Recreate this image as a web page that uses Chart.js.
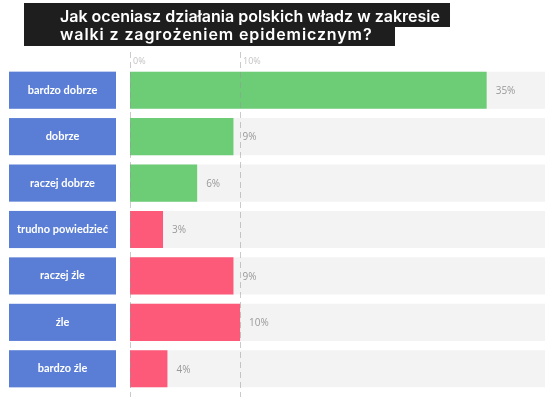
<!DOCTYPE html>
<html>
<head>
    <meta charset="UTF-8">
    <title>Ocena działań władz</title>
    <script src="https://cdn.jsdelivr.net/npm/chart.js"></script>
    <style>
        html, body { margin: 0; padding: 0; background: #fff; }
        #chart { display: block; }
    </style>
</head>
<body>
<canvas id="chart" width="555" height="397"></canvas>

<script>
    // dane
    var titleLines = ['Jak oceniasz działania polskich władz w zakresie', 'walki z zagrożeniem epidemicznym?'];
    var categories = ['bardzo dobrze', 'dobrze', 'raczej dobrze', 'trudno powiedzieć', 'raczej źle', 'źle', 'bardzo źle'];
    var percentLabels = [35, 9, 6, 3, 9, 10, 4];          // podpisy przy słupkach
    var barLengths = [32.4, 9.4, 6.1, 3, 9.4, 10, 3.4];  // długości słupków tak, jak są narysowane
    var tickValues = [0, 10];
    var axisMax = 37.7;

    var GREEN = '#6ccd76';
    var RED = '#fd5a79';
    var BLUE = '#5a7ed6';
    var TRACK = '#f3f3f3';

    // tytuł na czarnym tle
    var titlePlugin = {
        id: 'titleBox',
        beforeDraw: function (chart) {
            var ctx = chart.ctx;
            ctx.save();
            ctx.fillStyle = '#1e1e1e';
            ctx.fillRect(24, 3, 426, 24);
            ctx.fillRect(24, 27, 371, 19);
            ctx.font = '600 16px Inter';
            ctx.fillStyle = '#fff';
            ctx.textBaseline = 'alphabetic';
            ctx.fillText(titleLines[0], 60, 22);
            ctx.letterSpacing = '0.9px';
            ctx.fillText(titleLines[1], 60, 40);
            ctx.letterSpacing = '0px';
            ctx.restore();
        }
    };

    // niebieskie etykiety kategorii, linie siatki i wartości
    var extrasPlugin = {
        id: 'extras',
        afterDatasetsDraw: function (chart) {
            var ctx = chart.ctx;
            var xs = chart.scales.x;
            var meta = chart.getDatasetMeta(0);
            ctx.save();

            // linie przerywane
            ctx.strokeStyle = 'rgba(150,150,150,0.5)';
            ctx.lineWidth = 1;
            ctx.setLineDash([6, 4]);
            tickValues.forEach(function (v) {
                var x = Math.round(xs.getPixelForValue(v)) + 0.5;
                ctx.beginPath();
                ctx.moveTo(x, 52);
                ctx.lineTo(x, chart.height);
                ctx.stroke();
            });
            ctx.setLineDash([]);

            meta.data.forEach(function (bar, i) {
                var h = bar.height;
                var top = bar.y - h / 2;
                // etykieta kategorii
                ctx.fillStyle = BLUE;
                ctx.fillRect(9, top, 107, h);
                ctx.fillStyle = '#fff';
                ctx.font = 'bold 11px Lato';
                ctx.textAlign = 'center';
                ctx.textBaseline = 'middle';
                ctx.fillText(categories[i], 62.5, bar.y);
                // wartość
                ctx.fillStyle = '#999';
                ctx.font = '10px "Open Sans"';
                ctx.textAlign = 'left';
                ctx.fillText(percentLabels[i] + '%', bar.x + 9, bar.y + 1);
            });
            ctx.restore();
        }
    };

    var ctx = document.getElementById('chart').getContext('2d');
    var chart = new Chart(ctx, {
        type: 'bar',
        data: {
            labels: categories,
            datasets: [
                {
                    data: barLengths,
                    backgroundColor: barLengths.map(function (v, i) { return i < 3 ? GREEN : RED; }),
                    grouped: false,
                    order: 0
                },
                {
                    data: categories.map(function () { return axisMax; }),
                    backgroundColor: TRACK,
                    grouped: false,
                    order: 1
                }
            ]
        },
        options: {
            indexAxis: 'y',
            responsive: false,
            animation: false,
            devicePixelRatio: 1,
            layout: { padding: { left: 130, right: 10, top: 0, bottom: 5 } },
            datasets: { bar: { categoryPercentage: 0.8, barPercentage: 1 } },
            plugins: { legend: { display: false }, tooltip: { enabled: false } },
            scales: {
                x: {
                    position: 'top',
                    min: 0,
                    max: axisMax,
                    afterBuildTicks: function (axis) {
                        axis.ticks = tickValues.map(function (v) { return { value: v }; });
                    },
                    grid: { display: false, drawTicks: false },
                    border: { display: false },
                    ticks: {
                        align: 'start',
                        labelOffset: 3,
                        padding: 0,
                        maxRotation: 0,
                        color: '#c4c4c4',
                        font: { family: 'Open Sans', size: 9 },
                        callback: function (v) { return v + '%'; }
                    },
                    afterFit: function (axis) { axis.height = 67; }
                },
                y: { display: false }
            }
        },
        plugins: [titlePlugin, extrasPlugin]
    });
</script>
</body>
</html>
